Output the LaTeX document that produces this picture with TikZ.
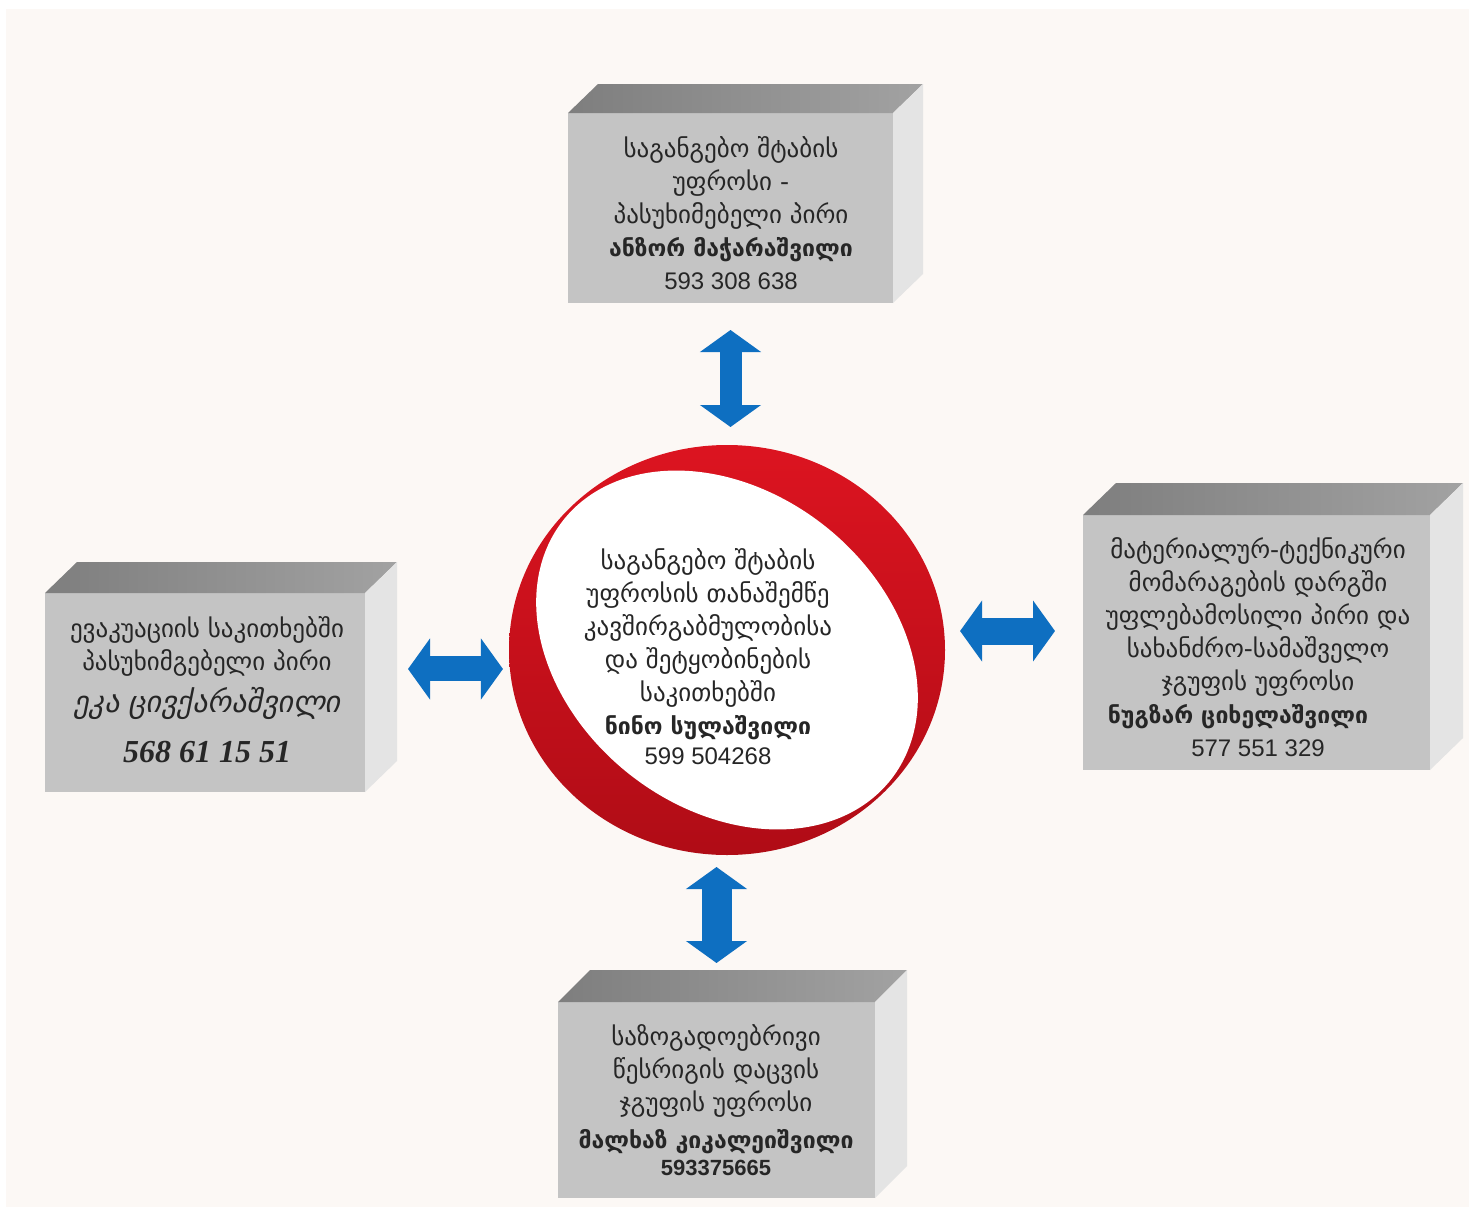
\documentclass[tikz,border=0pt]{standalone}
\usepackage{fontspec}
\usetikzlibrary{arrows.meta,calc,shapes.geometric}
\newfontfamily\geo{DejaVu Sans}
\newfontfamily\geoit[FakeSlant=0.2]{DejaVu Sans}
\newfontfamily\numsans{Liberation Sans}
\newfontfamily\numserif{Liberation Serif}
\definecolor{bg}{HTML}{FCF8F5}
\definecolor{frontgray}{HTML}{C4C4C4}
\definecolor{topgrayA}{HTML}{7E7E7E}
\definecolor{topgrayB}{HTML}{A2A2A2}
\definecolor{sidegray}{HTML}{E4E4E4}
\definecolor{txt}{HTML}{262626}
\definecolor{arrblue}{HTML}{0E6FC1}
\definecolor{ringred}{HTML}{DC1420}
\definecolor{ringdark}{HTML}{B00C16}
\newcommand\boxfaces[3]{%
  \shade[left color=topgrayA, right color=topgrayB]
    (#1.north west) -- ++(#2,-#3) -- ($(#1.north east)+(#2,-#3)$) -- (#1.north east) -- cycle;
  \fill[sidegray]
    (#1.north east) -- ++(#2,-#3) -- ($(#1.south east)+(#2,-#3)$) -- (#1.south east) -- cycle;
}
\newcommand\bname[1]{{\bfseries\fontsize{23}{33}\selectfont #1}}
\tikzset{
  frontface/.style={fill=frontgray, draw=none, inner sep=0pt, outer sep=0pt},
  geotext/.style={font=\geo\fontsize{25}{33}\selectfont, text=txt, align=center, inner sep=0pt},
  bluearrow/.style={draw=arrblue, line width=25pt,
    arrows={Triangle[width=60pt,length=22pt]-Triangle[width=60pt,length=22pt]}},
}
\begin{document}
\begin{tikzpicture}[x=1pt,y=-1pt]
\useasboundingbox (0,0) rectangle (1469,1207);
\fill[white] (0,0) rectangle (1469,1207);
\fill[bg] (6,9) rectangle (1469,1207);

% boxes (front faces)
\node[frontface, minimum width=325pt, minimum height=190pt] (topfront) at (730.5,208) {};
\node[frontface, minimum width=320pt, minimum height=199pt] (leftfront) at (205,692.5) {};
\node[frontface, minimum width=347pt, minimum height=255pt] (rightfront) at (1256.5,642.5) {};
\node[frontface, minimum width=317pt, minimum height=196pt] (botfront) at (716.5,1100) {};
\boxfaces{topfront}{30}{29}
\boxfaces{leftfront}{32}{31}
\boxfaces{rightfront}{33}{32}
\boxfaces{botfront}{32}{32}

% ring
\node[ellipse, minimum width=436pt, minimum height=410pt, inner sep=0pt, outer sep=0pt,
      top color=ringred, bottom color=ringdark] (ring) at (727,650) {};
\fill[white] plot[domain=0:360, samples=160, smooth cycle, variable=\t]
  ({727 + 218*0.7071*(0.985*cos(\t) + 0.75*sin(\t))}, {650 + 205*0.7071*(0.985*cos(\t) - 0.75*sin(\t))});

% texts
\node[geotext] (toptext) at (731,213) {საგანგებო შტაბის\\ უფროსი -\\ პასუხიმებელი პირი\\ \bname{ანზორ მაჭარაშვილი}\\ {\numsans\fontsize{24}{33}\selectfont 593 308 638}};

\node[geotext] (lefttext) at (207,690) {ევაკუაციის საკითხებში\\ პასუხიმგებელი პირი\\[9pt] {\geoit\fontsize{30}{33}\selectfont ეკა ცივქარაშვილი}\\[17pt] {\numserif\bfseries\itshape\fontsize{32}{33}\selectfont 568 61 15 51}};

\node[geotext] (righttext) at (1258,647) {მატერიალურ-ტექნიკური\\ მომარაგების დარგში\\ უფლებამოსილი პირი და\\ სახანძრო-სამაშველო\\ ჯგუფის უფროსი\\ \bname{ნუგზარ ციხელაშვილი}\rule{40pt}{0pt}\\ {\numsans\fontsize{24}{33}\selectfont 577 551 329}};

\node[geotext] (bottext) at (716,1100) {საზოგადოებრივი\\ წესრიგის დაცვის\\ ჯგუფის უფროსი\\[4pt] \bname{მალხაზ კიკალეიშვილი}\\[-6pt] {\numsans\bfseries\fontsize{22}{33}\selectfont 593375665}};

\node[geotext] (centertext) at (708,657) {საგანგებო შტაბის\\ უფროსის თანაშემწე\\ კავშირგაბმულობისა\\ და შეტყობინების\\ საკითხებში\\ \bname{ნინო სულაშვილი}\\[-3pt] {\numsans\fontsize{24}{33}\selectfont 599 504268}};

% arrows
\draw[bluearrow, line width=22pt, shorten <=27pt, shorten >=18pt] (topfront.south) -- (topfront.south |- ring.north);
\draw[bluearrow, shorten <=7pt, shorten >=43pt] (ring.185) -- (ring.185 -| leftfront.east);
\draw[bluearrow, line width=27pt, shorten <=16pt, shorten >=28pt] (ring.5) -- (ring.5 -| rightfront.west);
\draw[bluearrow, line width=30pt, shorten <=39pt, shorten >=12pt] (botfront.north) -- (botfront.north |- ring.south);
\end{tikzpicture}
\end{document}
